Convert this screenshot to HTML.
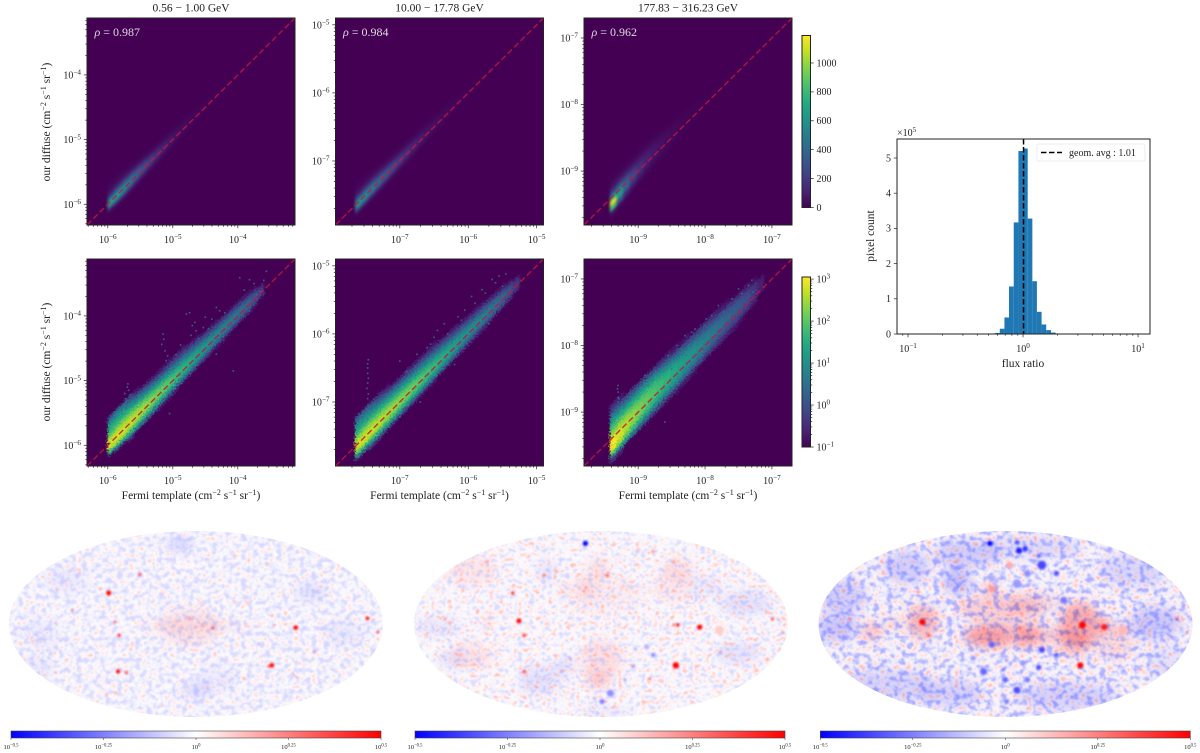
<!DOCTYPE html>
<html>
<head>
<meta charset="utf-8">
<title>Diffuse template comparison</title>
<style>
html,body{margin:0;padding:0;background:#fff;}
svg{display:block;}
text{font-family:"Liberation Serif",serif;fill:#222;}
</style>
</head>
<body>
<svg id="fig" width="1200" height="753" viewBox="0 0 1200 753" xmlns="http://www.w3.org/2000/svg">
<defs>
<linearGradient id="bwr" x1="0" x2="1" y1="0" y2="0"><stop offset="0" stop-color="#0000ff"/><stop offset=".5" stop-color="#ffffff"/><stop offset="1" stop-color="#ff0000"/></linearGradient>
<linearGradient id="viridisV" x1="0" x2="0" y1="1" y2="0">
<stop offset="0" stop-color="#440154"/><stop offset=".1" stop-color="#482475"/><stop offset=".2" stop-color="#414487"/><stop offset=".3" stop-color="#355f8d"/><stop offset=".4" stop-color="#2a788e"/><stop offset=".5" stop-color="#21918c"/><stop offset=".6" stop-color="#22a884"/><stop offset=".7" stop-color="#44bf70"/><stop offset=".8" stop-color="#7ad151"/><stop offset=".9" stop-color="#bddf26"/><stop offset="1" stop-color="#fde725"/>
</linearGradient>
<filter id="blurTop" x="-10%" y="-10%" width="120%" height="120%" color-interpolation-filters="sRGB"><feGaussianBlur stdDeviation="1.2"/></filter>
<filter id="blurBot" x="-10%" y="-10%" width="120%" height="120%" color-interpolation-filters="sRGB">
<feGaussianBlur stdDeviation="0.7" result="b"/>
<feTurbulence type="fractalNoise" baseFrequency="0.6" numOctaves="2" seed="7" result="n"/>
<feDisplacementMap in="b" in2="n" scale="7" xChannelSelector="R" yChannelSelector="G"/>
</filter>
<filter id="blurTint" x="-20%" y="-20%" width="140%" height="140%" color-interpolation-filters="sRGB"><feGaussianBlur stdDeviation="5"/></filter>
<filter id="blurSpot" x="-20%" y="-20%" width="140%" height="140%" color-interpolation-filters="sRGB"><feGaussianBlur stdDeviation="1"/></filter>
<filter id="noise0" filterUnits="userSpaceOnUse" x="0" y="525" width="400" height="200" color-interpolation-filters="sRGB">
<feTurbulence type="fractalNoise" baseFrequency="0.17 0.19" numOctaves="3" seed="4"/>
<feColorMatrix type="matrix" values="1 0 0 0 0 1 0 0 0 0 1 0 0 0 0 0 0 0 0 1"/>
<feComponentTransfer>
<feFuncR type="table" tableValues=".84 .84 .84 .86 .9 .95 1 1 1 1 1"/>
<feFuncG type="table" tableValues=".84 .84 .84 .86 .9 .95 .99 .93 .85 .78 .78"/>
<feFuncB type="table" tableValues="1 1 1 1 1 1 .99 .93 .85 .78 .78"/>
</feComponentTransfer><feGaussianBlur stdDeviation="0.6"/></filter>
<filter id="noise1" filterUnits="userSpaceOnUse" x="405" y="525" width="400" height="200" color-interpolation-filters="sRGB">
<feTurbulence type="fractalNoise" baseFrequency="0.17 0.19" numOctaves="3" seed="11"/>
<feColorMatrix type="matrix" values="1 0 0 0 0 1 0 0 0 0 1 0 0 0 0 0 0 0 0 1"/>
<feComponentTransfer>
<feFuncR type="table" tableValues=".85 .85 .85 .88 .93 .99 1 1 1 1 1"/>
<feFuncG type="table" tableValues=".85 .85 .85 .88 .93 .99 .95 .87 .78 .72 .72"/>
<feFuncB type="table" tableValues="1 1 1 1 1 1 .95 .87 .78 .72 .72"/>
</feComponentTransfer><feGaussianBlur stdDeviation="0.6"/></filter>
<filter id="noise2" filterUnits="userSpaceOnUse" x="810" y="525" width="395" height="200" color-interpolation-filters="sRGB">
<feTurbulence type="fractalNoise" baseFrequency="0.15 0.17" numOctaves="3" seed="23"/>
<feColorMatrix type="matrix" values="1 0 0 0 0 1 0 0 0 0 1 0 0 0 0 0 0 0 0 1"/>
<feComponentTransfer>
<feFuncR type="table" tableValues=".68 .68 .68 .72 .82 .93 1 1 1 1 1"/>
<feFuncG type="table" tableValues=".68 .68 .68 .72 .82 .93 .97 .88 .78 .7 .7"/>
<feFuncB type="table" tableValues="1 1 1 1 1 1 .97 .88 .78 .7 .7"/>
</feComponentTransfer><feGaussianBlur stdDeviation="0.6"/></filter>
</defs>
<rect x="0" y="0" width="1200" height="753" fill="#fff"/>

<text x="191" y="11.5" font-size="11.5" text-anchor="middle">0.56 − 1.00 GeV</text>
<text x="439.5" y="11.5" font-size="11.5" text-anchor="middle">10.00 − 17.78 GeV</text>
<text x="688" y="11.5" font-size="11.5" text-anchor="middle">177.83 − 316.23 GeV</text>

<text transform="translate(50,122) rotate(-90)" font-size="11.5" text-anchor="middle">our diffuse (cm<tspan dy="-4" font-size="8">−2</tspan><tspan dy="4"> s</tspan><tspan dy="-4" font-size="8">−1</tspan><tspan dy="4"> sr</tspan><tspan dy="-4" font-size="8">−1</tspan><tspan dy="4">)</tspan></text>
<text transform="translate(50,362) rotate(-90)" font-size="11.5" text-anchor="middle">our diffuse (cm<tspan dy="-4" font-size="8">−2</tspan><tspan dy="4"> s</tspan><tspan dy="-4" font-size="8">−1</tspan><tspan dy="4"> sr</tspan><tspan dy="-4" font-size="8">−1</tspan><tspan dy="4">)</tspan></text>
<text x="191" y="499" font-size="11.5" text-anchor="middle">Fermi template (cm<tspan dy="-4" font-size="8">−2</tspan><tspan dy="4"> s</tspan><tspan dy="-4" font-size="8">−1</tspan><tspan dy="4"> sr</tspan><tspan dy="-4" font-size="8">−1</tspan><tspan dy="4">)</tspan></text>
<text x="439.5" y="499" font-size="11.5" text-anchor="middle">Fermi template (cm<tspan dy="-4" font-size="8">−2</tspan><tspan dy="4"> s</tspan><tspan dy="-4" font-size="8">−1</tspan><tspan dy="4"> sr</tspan><tspan dy="-4" font-size="8">−1</tspan><tspan dy="4">)</tspan></text>
<text x="688" y="499" font-size="11.5" text-anchor="middle">Fermi template (cm<tspan dy="-4" font-size="8">−2</tspan><tspan dy="4"> s</tspan><tspan dy="-4" font-size="8">−1</tspan><tspan dy="4"> sr</tspan><tspan dy="-4" font-size="8">−1</tspan><tspan dy="4">)</tspan></text>

<text x="1023" y="367" font-size="11.5" text-anchor="middle">flux ratio</text>
<text transform="translate(874,236) rotate(-90)" font-size="11.5" text-anchor="middle">pixel count</text>
<text x="897" y="136" font-size="10">×10<tspan dy="-4" font-size="7">5</tspan></text>
</svg>

<script>
/* ---------- 2D histogram data (shared by linear and log rows) ---------- */
const panelTitles = ['low', 'mid', 'high'];
const axisLow = [-6.32, -7.94, -9.81];
const axisHigh = [-3.12, -4.90, -6.70];
const axisTickExps = [[-6, -5, -4], [-7, -6, -5], [-9, -8, -7]];
const rhoValues = ['0.987', '0.984', '0.962'];

const offsetsLow = [-0.25,-0.2,-0.15,-0.1,-0.05,0,0.05,0.1,0.15,0.2,0.25,0.3,0.35,0.4];
const fluxLow = [-5.95,-5.85,-5.75,-5.65,-5.55,-5.45,-5.35,-5.25,-5.15,-5.05,-4.95,-4.85,-4.75,-4.65,-4.55,-4.45,-4.35,-4.25,-4.15,-4.05,-3.95,-3.85,-3.75,-3.65];
const countsLow = [
[0,0,10,150,600,700,450,200,80,40,25,12,4,1],
[0,.5,25,220,560,680,500,260,110,50,25,12,6,2],
[0,.5,30,200,480,600,480,280,120,50,22,9,4,1.5],
[.3,3,25,140,380,500,440,260,110,40,14,5,2,.6],
[.1,2,16,90,280,400,370,210,85,28,8,2.5,.8,.2],
[.1,1.5,12,65,200,310,290,165,60,18,5,1.5,.4,.1],
[0,1,8,45,140,240,220,120,42,12,3.5,1,.3,.1],
[0,.6,6,30,100,175,165,90,30,8,2.5,.8,.2,0],
[0,.4,4,22,70,125,120,65,22,6,2,.6,.2,0],
[0,.3,3,15,48,90,88,46,16,5,1.6,.6,.2,0],
[0,.2,2,10,34,65,64,34,12,4,1.3,.5,.2,.1],
[0,.1,1.4,7,24,45,45,24,9,3,1,.4,.2,.1],
[0,.1,1,5,16,32,32,17,6,2,.7,.3,.1,0],
[0,0,.7,3.5,11,22,22,12,4,1.3,.5,.2,.1,0],
[0,0,.5,2.5,8,15,15,8,2.8,.9,.3,.1,0,0],
[0,0,.3,1.8,6,11,11,6,2,.6,.2,.1,0,0],
[0,0,.2,1.3,4.5,8,8,4.5,1.5,.5,.15,0,0,0],
[0,0,.2,1,3.5,6,6,3.5,1.2,.4,.1,0,0,0],
[0,0,.15,.8,2.8,5,5,2.8,1,.3,.1,0,0,0],
[0,0,.1,.6,2.2,4,4,2.2,.8,.25,0,0,0,0],
[0,0,.1,.5,1.8,3,3,1.8,.6,.2,0,0,0,0],
[0,0,0,.4,1.3,2.2,2.2,1.2,.4,.15,0,0,0,0],
[0,0,0,.25,.8,1.3,1.3,.7,.25,.1,0,0,0,0],
[0,0,0,.1,.4,.6,.6,.3,.1,0,0,0,0,0]];
const outlierXLow = [-5.69,-5.74,-5.76,-5.71,-5.79,-5.73,-5.68,-5.72,-5.7,-5.75,-5.66,-5.15,-5.17,-5.12,-5.1,-5.08,-5.14,-4.74,-4.79,-4.66,-4.64,-4.7,-4.72,-4.53,-4.33,-4.28,-3.97,-3.82,-3.56,-3.71,-3.66,-4.07,-5.05,-4.33,-3.82,-4.95,-4.88,-4.6,-4.45,-3.9,-3.75,-3.6,-4.2,-4.4,-4.5];
const outlierYLow = [-5.05,-5.2,-5.36,-5.31,-5.46,-5.28,-5.15,-5.42,-5.1,-5.38,-5.22,-4.28,-4.44,-4.54,-4.69,-4.62,-4.36,-3.95,-3.97,-4.1,-4.23,-4.15,-4.3,-4.18,-3.87,-3.92,-3.41,-3.44,-3.31,-3.67,-3.62,-4.85,-5.51,-4.59,-3.92,-4.6,-4.45,-4.35,-4.2,-3.6,-3.5,-3.45,-3.95,-4.05,-4.02];

const offsetsMid = [-0.25,-0.2,-0.15,-0.1,-0.05,0,0.05,0.1,0.15,0.2,0.25,0.3,0.35,0.4];
const fluxMid = [-7.6,-7.5,-7.4,-7.3,-7.2,-7.1,-7,-6.9,-6.8,-6.7,-6.6,-6.5,-6.4,-6.3,-6.2,-6.1,-6,-5.9,-5.8,-5.7,-5.6,-5.5,-5.4,-5.3];
const countsMid = [
[0,2,25,220,560,620,400,180,70,30,15,8,3,1],
[0,1,28,200,520,600,420,210,85,35,15,7,3,1],
[.3,2,22,150,420,520,400,220,90,35,12,5,2,.8],
[.2,2,18,110,330,430,350,190,80,28,9,3,1,.4],
[.1,1.5,14,80,250,350,300,160,65,22,7,2,.6,.2],
[.1,1,10,60,190,280,250,130,50,16,5,1.5,.4,.1],
[0,.8,8,45,140,220,200,105,40,12,4,1,.3,.1],
[0,.6,6,32,105,170,160,85,30,10,3,.9,.3,0],
[0,.4,4.5,24,75,130,125,65,24,8,2.5,.8,.2,0],
[0,.3,3,17,55,95,92,50,18,6,2,.7,.2,0],
[0,.2,2.2,12,38,70,68,36,13,4.5,1.5,.5,.2,.1],
[0,.2,1.6,9,28,50,50,27,10,3.2,1.1,.4,.2,.1],
[0,.1,1.1,6,20,36,36,19,7,2.3,.8,.3,.1,0],
[0,.1,.8,4.5,14,26,26,14,5,1.7,.6,.2,.1,0],
[0,0,.6,3,10,18,18,10,3.5,1.2,.4,.2,.1,0],
[0,0,.4,2.2,7,13,13,7,2.6,.9,.3,.1,0,0],
[0,0,.3,1.6,5,10,10,5,1.9,.7,.25,.1,0,0],
[0,0,.2,1.2,4,7.5,7.5,4,1.5,.5,.2,0,0,0],
[0,0,.2,.9,3,6,6,3,1.2,.4,.15,0,0,0],
[0,0,.15,.7,2.3,4.5,4.5,2.3,.9,.3,.1,0,0,0],
[0,0,.1,.5,1.7,3.2,3.2,1.7,.6,.2,.1,0,0,0],
[0,0,.1,.35,1.2,2.2,2.2,1.2,.45,.15,0,0,0,0],
[0,0,0,.2,.7,1.2,1.2,.7,.25,.1,0,0,0,0],
[0,0,0,.1,.3,.5,.5,.3,.1,0,0,0,0,0]];
const outlierXMid = [-7.47,-7.47,-7.47,-7.47,-7.46,-7.48,-7.47,-7.46,-7.47,-7.47,-7.47,-7.46,-7.0,-6.9,-6.75,-6.6,-6.5,-6.45,-6.3,-6.15,-6.05,-5.9,-5.75,-5.6,-5.5,-5.45,-5.7,-6.2,-6.7,-6.55,-6.35,-6.1,-5.95,-5.8,-5.65,-5.55];
const outlierYMid = [-7.25,-7.15,-7.05,-6.95,-6.88,-6.8,-6.72,-6.65,-6.58,-6.5,-6.44,-6.38,-6.4,-6.55,-6.3,-6.2,-6.05,-5.95,-6.0,-5.75,-5.65,-5.55,-5.4,-5.25,-5.3,-5.12,-5.85,-6.45,-7.0,-6.15,-5.85,-5.8,-5.45,-5.35,-5.2,-5.15];

const offsetsHigh = [-0.32,-0.24,-0.16,-0.08,0,0.08,0.16,0.24,0.32,0.4,0.48,0.56];
const fluxHigh = [-9.37,-9.27,-9.17,-9.07,-8.97,-8.87,-8.77,-8.67,-8.57,-8.47,-8.37,-8.27,-8.17,-8.07,-7.97,-7.87,-7.77,-7.67,-7.57,-7.47,-7.37,-7.27,-7.17];
const countsHigh = [
[.5,60,800,1150,600,200,60,20,5,1,.3,0],
[.3,20,300,650,580,280,90,25,5,1,.2,0],
[.1,8,110,330,400,260,100,25,4,.8,0,0],
[0,3,50,170,260,210,90,25,5,.8,0,0],
[0,1.5,25,100,170,150,85,25,6,.8,.1,0],
[0,1,14,60,110,115,75,25,6,.8,.1,0],
[0,.6,8,36,75,85,60,20,5,.6,.1,0],
[0,.4,6,26,50,60,42,14,3,.4,0,0],
[0,.3,4,18,35,42,30,9,2,.3,0,0],
[0,.3,3,13,26,30,20,6,1.3,.2,0,0],
[0,.2,2.2,9,18,20,13,4,.9,.15,0,0],
[0,.2,1.6,6,13,15,10,3,.7,.15,0,0],
[0,.15,1.1,4.5,9,11,7,2.4,.6,.1,0,0],
[0,.1,.8,3,6,8,5,1.8,.5,.1,0,0],
[0,.1,.5,2,4,6,4,1.4,.4,.1,0,0],
[0,0,.4,1.4,3,4,3,1,.3,0,0,0],
[0,0,.3,1,2,3,2.2,.8,.2,0,0,0],
[0,0,.25,.8,1.6,2.2,1.6,.6,.15,0,0,0],
[0,0,.2,.6,1.2,1.6,1.2,.45,.1,0,0,0],
[0,0,.15,.5,1,1.3,1,.35,.1,0,0,0],
[0,0,.1,.35,.7,.9,.7,.25,0,0,0,0],
[0,0,0,.2,.4,.5,.4,.15,0,0,0,0],
[0,0,0,.1,.2,.25,.2,.1,0,0,0,0]];
const outlierXHigh = [-9.3,-9.3,-9.3,-9.3,-9.3,-9.31,-9.3,-9.29,-9.3,-8.55,-8.5,-8.42,-8.35,-8.28,-8.3,-8.2,-8.12,-8.05,-7.98,-7.9,-7.85,-7.8,-7.72,-7.6,-7.5,-7.45,-7.35,-7.28,-7.3,-8.9,-8.85,-8.7,-8.6,-8.45,-8.38,-8.25,-8.15,-8.0,-7.95];
const outlierYHigh = [-9.0,-8.92,-8.85,-8.78,-8.7,-8.65,-8.6,-8.8,-8.95,-8.15,-8.35,-8.0,-8.05,-8.15,-7.85,-7.8,-7.98,-7.9,-7.6,-7.55,-7.75,-7.4,-7.5,-7.3,-7.15,-7.22,-7.1,-7.2,-7.02,-8.45,-8.6,-8.95,-9.15,-8.2,-8.1,-8.0,-7.75,-7.7,-7.8];

const heatOffsets = [offsetsLow, offsetsMid, offsetsHigh];
const heatFlux = [fluxLow, fluxMid, fluxHigh];
const heatCounts = [countsLow, countsMid, countsHigh];
const heatOutlierX = [outlierXLow, outlierXMid, outlierXHigh];
const heatOutlierY = [outlierYLow, outlierYMid, outlierYHigh];

const linearBarTicks = [0, 200, 400, 600, 800, 1000];
const logBarTicks = [-1, 0, 1, 2, 3];

/* ---------- histogram data ---------- */
const histEdges = [0.571,0.628,0.689,0.755,0.83,0.912,1.0,1.098,1.205,1.32,1.45,1.59,1.75,1.92,2.1,2.3];
const histCounts = [0.03,0.15,0.47,1.35,3.17,5.2,5.27,3.28,1.5,0.63,0.27,0.11,0.04,0.015,0.005];
const histXTickExps = [-1, 0, 1];
const histYTicks = [0, 1, 2, 3, 4, 5];
const geomAvg = [1.01];
const legendLabels = ['geom. avg : 1.01'];

/* ---------- sky-map data: [lon deg, lat deg, radius-lon deg, radius-lat deg, log10 ratio] ---------- */
const tints0 = [
[-6,-3,30,18,.06],[0,-1,58,2,.1],[-157,-44,20,12,-.04],[-16,76,14,5,-.12],[0,-64,14,8,-.08],[110,31,15,10,-.06],[142,-9,20,12,-.04],[-125,42,20,12,-.04],[20,-54,20,10,-.04],[-150,-10,20,15,-.03]];
const spots0 = [
[-84,30,2.8,.5],[96,-3.5,2.6,.5],[73,-40,2.6,.5],[70,-41,1.8,.3],[165,5.5,2,.5],[171,4,1,.3],[175,-8,1.4,.5],[-75,-46,2.4,.5],[-67,-47,1.8,.35],[-74,-11,1.8,.45],[-78,2,1.5,.35],[-54,48,1.8,.35],[-92,34,1.2,.3],[-119,13,1.2,.4],[16,-4,1.4,.45],
[-135,1,1,.25],[-134,34,1,.3],[-135,-47,1,.3],[-77,-67,1.2,.25],[47,-53,1.2,.3],[94,-49,1.2,.25],[97,-52,1,.25],[114,-27,1.3,.3],[73,8,1,.35],[75,-1,1,.4],[37,21,1,.25],[49,21,2.2,.1],[5,20,2.5,.08],
[-105,72,1,.2],[-61,66,1,.2],[-75,54,1,.18],[-112,50,1.2,.2],[-117,52,1,.2],[-43,21,1,.2],[-32,30,1.2,.15],[8,47,1,.2],[50,36,1,.18],[69,58,1.5,.15],[84,31,1,.18],[37,66,1.2,.3],[61,-1,1,.2],[49,-2,1,.2],[36,22,1,.2],[-157,-17,1.4,.15],[-149,-17,1,.2],[-136,-28,1,.2],[-125,-17,1,.15],[-109,4,1,.15],[-103,-1,1,.15],[-61,-20,1.2,.2],[-48,-28,1,.2],[-11,-54,1,.15],[10,-60,1,.15],[29,-36,1,.15],[53,-41,1,.15],[81,-52,1,.15],[100,-38,1,.2],[122,-41,1,.15],[147,-40,1,.15],[-86,-68,1.5,.2],[-32,-79,1,.15],[-78,-66,1,.2],[-125,-43,1,.15],[-112,-46,1,.15],
[-35,-1,1,.2],[-51,-1,.8,.2],[-19,2,1.2,.18],[-6,5,1.8,.18],[0,-3,1.2,.2],[7,-2,1.2,.25],[-14,-3,1,.2],[-22,-6,1,.18],[-6,-11,1,.15],[4,-15,1,.15],[-9,-19,1,.15],[12,12,1,.12],
[-117,-26,1,-.15],[-36,44,2.5,-.08],[114,-20,1,-.15],[60,-19,1,-.2]];
const tints1 = [
[-14,34,8,8,.09],[-3,55,10,10,.07],[1,-35,20,20,.07],[-3,-54,12,8,.11],[-109,1,4,8,.08],[75,52,14,12,.07],[-125,52,24,14,.05],[-125,-31,22,12,.06],[68,36,20,15,.04],[0,30,40,20,.03],
[-157,-3,22,8,-.05],[139,20,25,12,-.06],[132,-28,22,10,-.06],[-51,52,10,10,-.05],[-60,-54,20,14,-.06],[-35,-41,12,10,-.05],[-144,-35,14,8,-.05],[100,36,18,10,-.04],[6,-85,25,4,-.05]];
const spots1 = [
[-79,3,2.8,.5],[95,-3,3,.5],[114,-6,5,.1],[72,-40,3.6,.5],[-85,30,1.8,.45],[165,5,1.5,.45],[171,4,1,.35],[175,-8,1,.4],[-74,-11,2,.4],[-74,-46,1.8,.4],[74,-1,2,.45],[70,-1,1.5,.35],[47,-53,1.5,.35],[6,47,2,.3],[-55,47,1.5,.35],[-150,5,1.3,.3],[-119,13,1,.35],[-96,22,1,.25],[-133,34,1,.3],[115,-27,1.3,.3],
[-50,-1,.8,.25],[-40,-1,.8,.2],[-30,-1,1,.25],[-25,-1,.8,.22],[-15,-1,.8,.22],[-5,-1,.8,.22],[5,-1,1,.22],[17,-1,1,.3],[25,-1,1,.25],[42,-1,.8,.22],[58,-1,.8,.25],[64,-1,1,.3],
[-110,60,2,.2],[-70,65,1.5,.18],[50,70,2,.2],[70,60,2,.2],[-40,30,1.5,.12],[20,35,1.5,.12],[-135,-30,1.5,.15],[-100,-40,1.5,.12],[-85,-65,1.5,.2],[-30,-78,1,.2],[100,-45,1,.2],[-15,-25,1.5,.12],
[-15,78,3,-.5],[9,-67,4,-.22],[1,-75,3,-.25],[-6,-72,1.5,-.2],[44,-22,3,-.15],[50,-30,2.5,-.22],[33,-24,2,-.15],[-38,-46,1.5,-.2],[-30,-33,1.5,-.2],[23,-54,1.5,-.25],[31,-41,2,-.2],[-144,-22,1.5,-.15],[-50,45,2.5,-.1],[35,70,2,-.12]];
const tints2 = [
[8,-11,48,11,.14],[-5,15,42,13,.11],[-18,-12,22,11,.16],[72,-1,20,22,.22],[65,-19,16,13,.12],[96,-3,8,8,.18],[113,-6,6,6,.16],[-80,2,15,16,.18],[-129,-7,10,10,.13],[-108,1,5,6,.13],[-15,34,6,6,.16],[27,20,26,10,.08],[21,-11,11,10,.16],[104,-22,20,13,.07],
[144,1,24,16,-.13],[-162,-3,20,13,-.13],[-47,42,13,13,-.15],[-95,55,22,16,-.11],[-156,26,22,16,-.11],[-117,-60,48,16,-.09],[-53,-67,32,13,-.1],[59,-70,48,13,-.1],[123,52,32,16,-.08],[-37,68,32,13,-.11],[27,74,48,10,-.07],[155,-38,16,19,-.05]];
const spots2 = [
[-15,78,3,-.5],[11,79,2.5,-.35],[13,71,3.5,-.45],[19,73,3,-.4],[35,57,5,-.36],[32,66,2.5,-.3],[49,49,3,-.35],[21,49,4,-.22],[11,39,5,-.2],[56,23,4,-.26],[-13,-20,3.5,-.3],[35,-25,3.5,-.36],[49,-30,2.5,-.32],[32,-42,3,-.35],[-21,-46,4,-.3],[-2,-44,2,-.3],[0,-54,3,-.3],[11,-64,4,-.35],[21,-54,3,-.26],[-31,-33,3,-.2],[1,-35,2,-.2],[1,-75,3,-.25],[17,-38,3,-.2],[-13,44,4,-.16],[1,26,3,-.16],
[-80,2,3.5,.5],[74,-1,4,.5],[95,-3,3.5,.45],[72,-40,3.5,.5],[-74,-11,2,.35],[-150,5,1.5,.35],[-84,31,1.5,.3],[165,5,1.5,.4],[175,-8,1.2,.4],[171,4,1,.25],[-13,34,4,.2],[4,57,4,.16],[14,-4,2,.3],[-21,-4,2,.25],[130,-44,1.5,.25],[113,-6,5,.14]];
const skyTints = [tints0, tints1, tints2];
const skySpots = [spots0, spots1, spots2];
const skyBarTicks = [-0.5, -0.25, 0, 0.25, 0.5];
const skyBarLabels = ['−0.5', '−0.25', '0', '0.25', '0.5'];

/* ---------- helpers ---------- */
const NS = 'http://www.w3.org/2000/svg';
const fig = document.getElementById('fig');
function el(parent, tag, attrs) {
  const e = document.createElementNS(NS, tag);
  for (const k in attrs) e.setAttribute(k, attrs[k]);
  parent.appendChild(e);
  return e;
}
const viridisStops = [[68,1,84],[72,36,117],[65,68,135],[53,95,141],[42,120,142],[33,145,140],[34,168,132],[68,191,112],[122,209,81],[189,223,38],[253,231,37]];
function viridis(t) {
  t = Math.max(0, Math.min(1, t)) * 10;
  const i = Math.min(9, Math.floor(t)), f = t - i;
  const a = viridisStops[i], b = viridisStops[i + 1];
  return 'rgb(' + [0, 1, 2].map(c => Math.round(a[c] + (b[c] - a[c]) * f)).join(',') + ')';
}
function powerLabel(parent, x, y, base, exp, size, anchor) {
  const t = el(parent, 'text', {x: x, y: y, 'font-size': size, 'text-anchor': anchor});
  t.appendChild(document.createTextNode(base));
  const s = el(t, 'tspan', {dy: -size * 0.38, 'font-size': size * 0.72});
  s.textContent = exp;
  return t;
}
function minus(n) { return n < 0 ? '−' + Math.abs(n) : String(n); }

/* ---------- scatter-density panels ---------- */
const panelLefts = [87, 335.5, 584];
const rowTops = [18, 259];
const panelW = 208, panelH = 207;

function drawPanel(col, row) {
  const left = panelLefts[col], top = rowTops[row];
  const lo = axisLow[col], hi = axisHigh[col];
  const sx = v => left + (v - lo) / (hi - lo) * panelW;
  const sy = v => top + panelH - (v - lo) / (hi - lo) * panelH;
  const clipId = 'clip-' + col + '-' + row;
  const defs = fig.querySelector('defs');
  const cp = el(defs, 'clipPath', {id: clipId});
  el(cp, 'rect', {x: left, y: top, width: panelW, height: panelH});

  const g = el(fig, 'g', {'clip-path': 'url(#' + clipId + ')'});
  
  
  const bg = el(g, 'rect', {x: left, y: top, width: panelW, height: panelH, fill: '#440154'});
  
  

  const color = row === 0 ? (v => viridis(v / 1190)) : (v => viridis((Math.log10(v) + 1) / 4.05));
  const minCount = row === 0 ? 4 : 0.1;
  const cellsG = el(g, 'g', {filter: row === 0 ? 'url(#blurTop)' : 'url(#blurBot)'});
  
  
  const flux = heatFlux[col], offs = heatOffsets[col], counts = heatCounts[col];
  const dx = flux[1] - flux[0], dy = offs[1] - offs[0];
  flux.forEach((fx, i) => {
    offs.forEach((o, j) => {
      const v = counts[i][j];
      if (!v || v < minCount) return;
      const x0 = fx - dx / 2, x1 = fx + dx / 2, o0 = o - dy / 2, o1 = o + dy / 2;
      const pts = [[x0, x0 + o0], [x1, x1 + o0], [x1, x1 + o1], [x0, x0 + o1]]
        .map(p => sx(p[0]).toFixed(1) + ',' + sy(p[1]).toFixed(1)).join(' ');
      const c = el(cellsG, 'polygon', {points: pts, fill: color(v), stroke: color(v), 'stroke-width': 0.4});
      
      
    });
  });
  if (row === 1) {
    heatOutlierX[col].forEach((ox, i) => {
      const pt = el(g, 'rect', {x: sx(ox) - 0.8, y: sy(heatOutlierY[col][i]) - 0.8, width: 1.6, height: 1.6, fill: '#3a6f8e', opacity: 0.85});
      
      
    });
  }
  const diag = el(g, 'line', {x1: sx(lo), y1: sy(lo), x2: sx(hi), y2: sy(hi), stroke: '#c4163c', 'stroke-width': 1.4, 'stroke-dasharray': '6 3', opacity: 0.85});
  
  

  const frame = el(fig, 'rect', {x: left, y: top, width: panelW, height: panelH, fill: 'none', stroke: '#222', 'stroke-width': 1});
  
  

  const ticks = el(fig, 'g', {stroke: '#222', 'stroke-width': 0.7});
  
  
  for (let d = Math.floor(lo); d < Math.ceil(hi); d++) {
    for (let m = 1; m < 10; m++) {
      const v = d + Math.log10(m);
      if (v < lo || v > hi) continue;
      const len = m === 1 ? 3.2 : 1.7;
      const tx = el(ticks, 'line', {x1: sx(v), x2: sx(v), y1: top + panelH, y2: top + panelH + len});
      
      
      const ty = el(ticks, 'line', {x1: left, x2: left - len, y1: sy(v), y2: sy(v)});
      
      
    }
  }
  axisTickExps[col].forEach(exp => {
    const xl = powerLabel(fig, sx(exp), top + panelH + 18, '10', minus(exp), 10, 'middle');
    
    
    const yl = powerLabel(fig, left - 6, sy(exp) + 3.5, '10', minus(exp), 10, 'end');
    
    
  });
  if (row === 0) {
    const r = el(fig, 'text', {x: left + 7.5, y: 36, 'font-size': 12, style: 'fill:#ddd'});
    const rh = el(r, 'tspan', {'font-style': 'italic'});
    rh.textContent = 'ρ';
    r.appendChild(document.createTextNode(' = ' + rhoValues[col]));
    
    
  }
}
for (let c = 0; c < 3; c++) for (let r = 0; r < 2; r++) drawPanel(c, r);

/* ---------- colourbars ---------- */
function drawDensityBars() {
  const x = 802, w = 8.5;
  const top1 = 35.5, bot1 = 207.5, top2 = 277, bot2 = 447;
  const b1 = el(fig, 'rect', {x: x, y: top1, width: w, height: bot1 - top1, fill: 'url(#viridisV)', stroke: '#222', 'stroke-width': 1});
  
  
  const b2 = el(fig, 'rect', {x: x, y: top2, width: w, height: bot2 - top2, fill: 'url(#viridisV)', stroke: '#222', 'stroke-width': 1});
  
  
  const y1 = v => bot1 - v / 1190 * (bot1 - top1);
  linearBarTicks.forEach(v => {
    const t = el(fig, 'line', {x1: x + w, x2: x + w + 3.2, y1: y1(v), y2: y1(v), stroke: '#222', 'stroke-width': 0.7});
    
    
    const l = el(fig, 'text', {x: x + w + 6, y: y1(v) + 3.3, 'font-size': 10});
    l.textContent = String(v);
    
    
  });
  const y2 = v => bot2 - (v + 1) / 4.05 * (bot2 - top2);
  logBarTicks.forEach(v => {
    for (let m = 1; m < 10; m++) {
      const p = v + Math.log10(m);
      if (p > 3.05) continue;
      const t = el(fig, 'line', {x1: x + w, x2: x + w + (m === 1 ? 3.2 : 1.7), y1: y2(p), y2: y2(p), stroke: '#222', 'stroke-width': 0.7});
      
      
    }
    const l = powerLabel(fig, x + w + 6, y2(v) + 3.3, '10', minus(v), 10, 'start');
    
    
  });
}
drawDensityBars();

/* ---------- histogram ---------- */
function drawHistogram() {
  const left = 897, right = 1150, top = 139, bottom = 334;
  const xLo = -1.096, xHi = 1.104, yHi = 5.54;
  const sx = v => left + (v - xLo) / (xHi - xLo) * (right - left);
  const sy = v => bottom - v / yHi * (bottom - top);
  histCounts.forEach((c, i) => {
    const x0 = sx(Math.log10(histEdges[i])), x1 = sx(Math.log10(histEdges[i + 1]));
    const bar = el(fig, 'rect', {x: x0, y: sy(c), width: x1 - x0, height: bottom - sy(c), fill: '#1f77b4'});
    
    
  });
  const v = el(fig, 'line', {x1: sx(Math.log10(geomAvg[0])), x2: sx(Math.log10(geomAvg[0])), y1: top, y2: bottom, stroke: '#000', 'stroke-width': 1.5, 'stroke-dasharray': '5.5 2.5'});
  
  
  const frame = el(fig, 'rect', {x: left, y: top, width: right - left, height: bottom - top, fill: 'none', stroke: '#222', 'stroke-width': 1});
  
  
  for (let d = -2; d < 2; d++) {
    for (let m = 1; m < 10; m++) {
      const p = d + Math.log10(m);
      if (p < xLo || p > xHi) continue;
      const t = el(fig, 'line', {x1: sx(p), x2: sx(p), y1: bottom, y2: bottom + (m === 1 ? 3.2 : 1.7), stroke: '#222', 'stroke-width': 0.7});
      
      
    }
  }
  histXTickExps.forEach(e => {
    const l = powerLabel(fig, sx(e), bottom + 18, '10', minus(e), 10, 'middle');
    
    
  });
  histYTicks.forEach(c => {
    const t = el(fig, 'line', {x1: left, x2: left - 3.2, y1: sy(c), y2: sy(c), stroke: '#222', 'stroke-width': 0.7});
    
    
    const l = el(fig, 'text', {x: left - 6, y: sy(c) + 3.3, 'font-size': 10, 'text-anchor': 'end'});
    l.textContent = String(c);
    
    
  });
  const box = el(fig, 'rect', {x: 1037, y: 144, width: 108, height: 17, rx: 1.5, fill: '#fff', 'fill-opacity': 0.85, stroke: '#e6e6e6', 'stroke-width': 0.7});
  
  
  const key = el(fig, 'line', {x1: 1041, x2: 1062, y1: 152.5, y2: 152.5, stroke: '#000', 'stroke-width': 1.5, 'stroke-dasharray': '5.5 2.5'});
  
  
  const lt = el(fig, 'text', {x: 1069, y: 156, 'font-size': 10});
  lt.textContent = legendLabels[0];
  
  
}
drawHistogram();

/* ---------- sky maps ---------- */
const skyCx = [196, 601, 1005.5];
const skyCy = 624, skyRx = 187, skyRy = 93;
const skyBarLeft = [11, 415, 820.3];
const skyBarWidth = 370;

function dexColor(d) {
  const f = Math.max(0, 1 - Math.abs(d) / 0.5);
  const ch = Math.round(255 * f);
  return d >= 0 ? 'rgb(255,' + ch + ',' + ch + ')' : 'rgb(' + ch + ',' + ch + ',255)';
}
function drawSky(i) {
  const cx = skyCx[i];
  const defs = fig.querySelector('defs');
  const cp = el(defs, 'clipPath', {id: 'skyclip' + i});
  el(cp, 'ellipse', {cx: cx, cy: skyCy, rx: skyRx, ry: skyRy});
  const lonX = lon => cx + lon / 180 * skyRx;
  const latY = lat => skyCy - lat / 90 * skyRy;

  const g = el(fig, 'g', {'clip-path': 'url(#skyclip' + i + ')'});
  
  
  const tex = el(g, 'rect', {x: cx - skyRx - 3, y: skyCy - skyRy - 3, width: 2 * skyRx + 6, height: 2 * skyRy + 6, fill: '#fff', filter: 'url(#noise' + i + ')'});
  
  

  const tg = el(g, 'g', {filter: 'url(#blurTint)', style: 'mix-blend-mode:multiply'});
  
  
  skyTints[i].forEach(t => {
    const e = el(tg, 'ellipse', {cx: lonX(t[0]), cy: latY(t[1]), rx: t[2] / 180 * skyRx, ry: t[3] / 90 * skyRy, fill: t[4] >= 0 ? '#ff0000' : '#0000ff', 'fill-opacity': Math.min(0.6, Math.abs(t[4]) * 1.3)});
    
    
  });
  const sg = el(g, 'g', {filter: 'url(#blurSpot)'});
  
  
  skySpots[i].forEach(s => {
    const r = s[2] * 0.85 / 180 * skyRx;
    const e = el(sg, 'ellipse', {cx: lonX(s[0]), cy: latY(s[1]), rx: r, ry: r, fill: dexColor(s[3])});
    
    
  });

  const x0 = skyBarLeft[i];
  const bar = el(fig, 'rect', {x: x0, y: 731, width: skyBarWidth, height: 7, fill: 'url(#bwr)', stroke: '#444', 'stroke-width': 0.6});
  
  
  skyBarTicks.forEach((v, k) => {
    const px = x0 + (v + 0.5) * skyBarWidth;
    const t = el(fig, 'line', {x1: px, x2: px, y1: 738, y2: 740, stroke: '#333', 'stroke-width': 0.5});
    
    
    const l = powerLabel(fig, px, 749, '10', skyBarLabels[k], 6.5, 'middle');
    
    
  });
}
[0, 1, 2].forEach(drawSky);
</script>
</body>
</html>
